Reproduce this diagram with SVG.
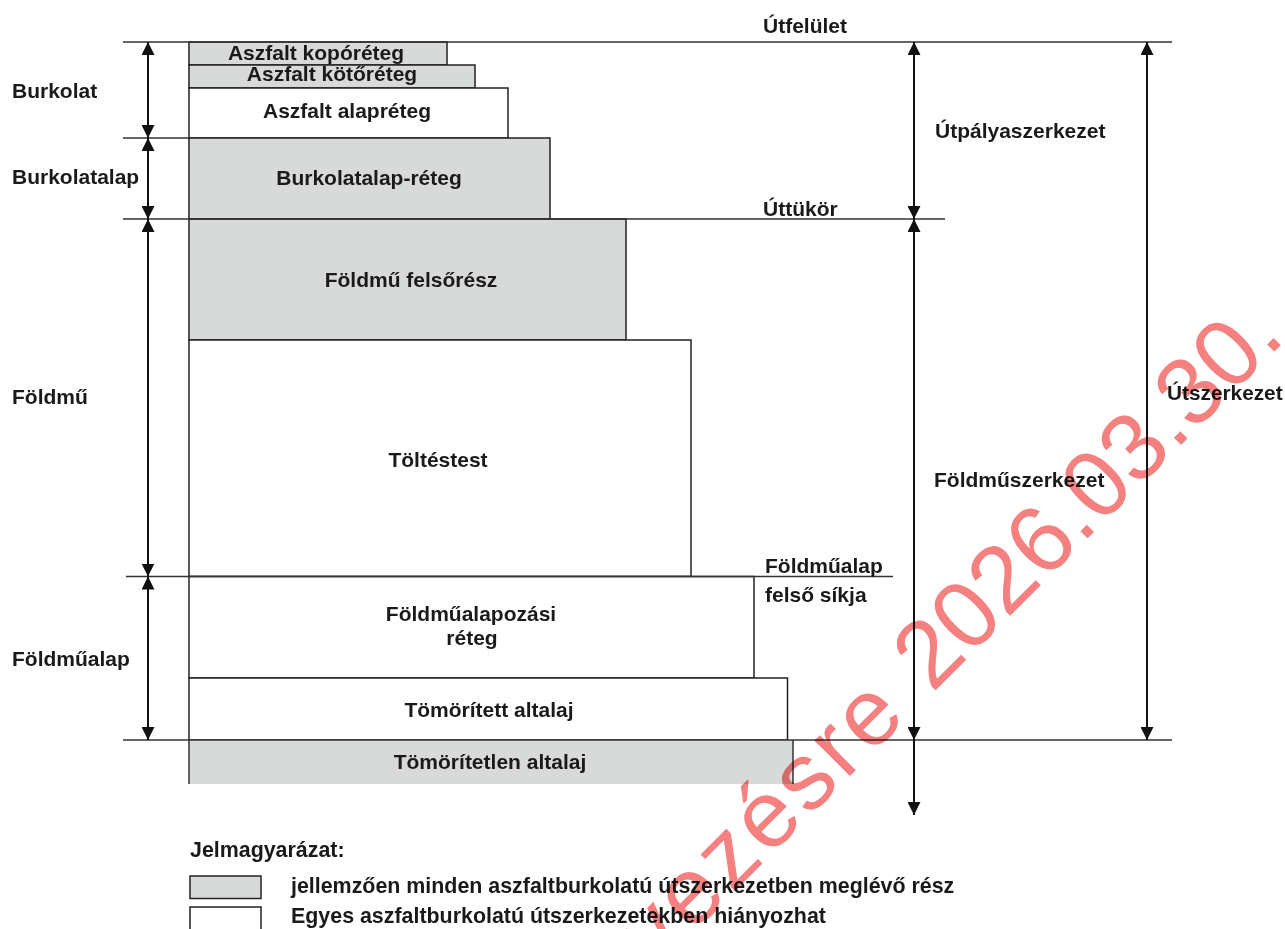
<svg xmlns="http://www.w3.org/2000/svg" width="1285" height="929" viewBox="0 0 1285 929">
<style>
.t{font-family:"Liberation Sans",Arial,sans-serif;font-weight:bold;font-size:21px;fill:#1a1a1a}
.c{text-anchor:middle}
.lg{font-size:21.4px}
.g{fill:#d8dad9;stroke:#222;stroke-width:1.5}
.w{fill:#fff;stroke:#222;stroke-width:1.5}
.h{stroke:#333;stroke-width:1.5;fill:none}
.a{stroke:#111;stroke-width:2;fill:none;marker-start:url(#ah);marker-end:url(#ah)}
.wm{font-family:"Liberation Sans",Arial,sans-serif;font-size:95px;fill:#f4807f}
</style>
<defs>
<marker id="ah" markerUnits="userSpaceOnUse" markerWidth="13" markerHeight="13" refX="13" refY="6.5" orient="auto-start-reverse">
<path d="M0,0 L13,6.5 L0,13 z" fill="#111"/>
</marker>
</defs>
<rect width="1285" height="929" fill="#fff"/>

<g id="layers">
<g id="kopo"><rect class="g" x="189" y="42" width="258" height="23"/><text class="t c" x="316" y="60">Aszfalt kopóréteg</text></g>
<g id="koto"><rect class="g" x="189" y="65" width="286" height="23"/><text class="t c" x="332" y="81">Aszfalt kötőréteg</text></g>
<g id="alap"><rect class="w" x="189" y="88" width="319" height="50"/><text class="t c" x="347" y="118">Aszfalt alapréteg</text></g>
<g id="burkolatalapreteg"><rect class="g" x="189" y="138" width="361" height="81"/><text class="t c" x="369" y="185">Burkolatalap-réteg</text></g>
<g id="foldmufelsoresz"><rect class="g" x="189" y="219" width="437" height="121"/><text class="t c" x="411" y="287">Földmű felsőrész</text></g>
<g id="toltestest"><rect class="w" x="189" y="340" width="502" height="236.5"/><text class="t c" x="438" y="467">Töltéstest</text></g>
<g id="foldmualapozasi"><rect class="w" x="189" y="576.5" width="565" height="101.5"/><text class="t c" x="471" y="621">Földműalapozási</text><text class="t c" x="472" y="645">réteg</text></g>
<g id="tomoritett"><rect class="w" x="189" y="678" width="598.5" height="62"/><text class="t c" x="489" y="717">Tömörített altalaj</text></g>
<g id="tomoritetlen"><rect x="189" y="740" width="604" height="44" fill="#d8dad9"/><path class="h" d="M189,740 V784 M793,740 V784" stroke="#222"/><text class="t c" x="490" y="769">Tömörítetlen altalaj</text></g>
</g>

<g id="levels">
<path class="h" d="M123,42 H1172 M123,138 H189 M123,219 H945 M126,576.5 H893 M123,740 H1172"/>
</g>

<g id="connectors">
<path class="a" d="M148,42 V138"/>
<path class="a" d="M148,138 V219"/>
<path class="a" d="M148,219 V576.5"/>
<path class="a" d="M148,576.5 V740"/>
<path class="a" d="M914,42 V219"/>
<path class="a" d="M914,219 V740"/>
<path d="M914,740 V815" stroke="#111" stroke-width="2" fill="none" marker-end="url(#ah)"/>
<path class="a" d="M1147,42 V740"/>
</g>

<g id="labels">
<text class="t" x="12" y="98">Burkolat</text>
<text class="t" x="12" y="184">Burkolatalap</text>
<text class="t" x="12" y="404">Földmű</text>
<text class="t" x="12" y="666">Földműalap</text>
<text class="t" x="763" y="33">Útfelület</text>
<text class="t" x="935" y="138">Útpályaszerkezet</text>
<text class="t" x="763" y="216">Úttükör</text>
<text class="t" x="934" y="487">Földműszerkezet</text>
<text class="t" x="1167" y="400" style="font-size:20.8px">Útszerkezet</text>
<text class="t" x="765" y="573">Földműalap</text>
<text class="t" x="765" y="602">felső síkja</text>
</g>

<g id="legend">
<text class="t lg" x="190" y="857">Jelmagyarázat:</text>
<rect class="g" x="190" y="876" width="71" height="22.5"/>
<text class="t lg" x="291" y="893">jellemzően minden aszfaltburkolatú útszerkezetben meglévő rész</text>
<rect class="w" x="190" y="907" width="71" height="30"/>
<text class="t lg" x="291" y="923">Egyes aszfaltburkolatú útszerkezetekben hiányozhat</text>
</g>

<g id="watermark" style="mix-blend-mode:multiply">
<text class="wm" text-anchor="end" transform="translate(1287,339) rotate(-45)"><tspan letter-spacing="4">vezésre </tspan><tspan letter-spacing="0">2026.03.30.</tspan></text>
</g>
</svg>
